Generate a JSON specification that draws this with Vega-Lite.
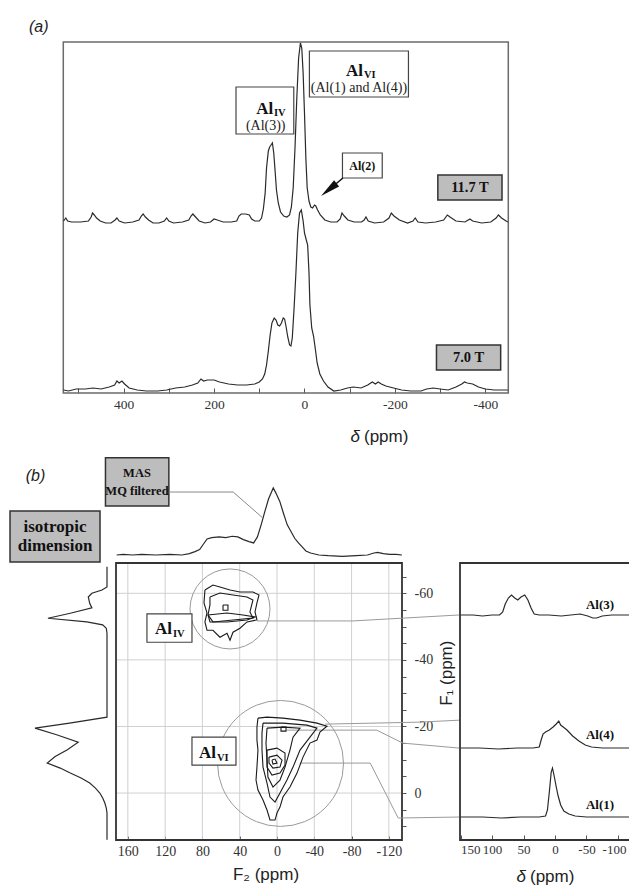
{
  "$schema": "https://vega.github.io/schema/vega-lite/v6.json",
  "width": 629,
  "height": 888,
  "autosize": "none",
  "padding": 0,
  "background": "white",
  "config": {"view": {"stroke": null}, "axis": {"grid": false, "labelOverlap": false}},
  "datasets": {
    "specHi": [
      {"ppm":533,"i":172},{"ppm":528,"i":175},{"ppm":524,"i":172},{"ppm":515,"i":171},{"ppm":495,"i":171},{"ppm":478,"i":172},{"ppm":472,"i":176},{"ppm":469,"i":180},{"ppm":465,"i":178},{"ppm":460,"i":175},{"ppm":452,"i":172},{"ppm":440,"i":170},{"ppm":428,"i":170},{"ppm":419,"i":173},{"ppm":415,"i":175},{"ppm":410,"i":172},{"ppm":398,"i":170},{"ppm":380,"i":171},{"ppm":366,"i":173},{"ppm":361,"i":177},{"ppm":357,"i":179},{"ppm":352,"i":176},{"ppm":345,"i":173},{"ppm":335,"i":170},{"ppm":322,"i":170},{"ppm":310,"i":172},{"ppm":305,"i":175},{"ppm":300,"i":172},{"ppm":290,"i":170},{"ppm":270,"i":171},{"ppm":256,"i":173},{"ppm":251,"i":177},{"ppm":247,"i":179},{"ppm":241,"i":176},{"ppm":233,"i":172},{"ppm":220,"i":170},{"ppm":208,"i":171},{"ppm":200,"i":174},{"ppm":193,"i":173},{"ppm":180,"i":171},{"ppm":162,"i":171},{"ppm":150,"i":172},{"ppm":145,"i":177},{"ppm":140,"i":179},{"ppm":130,"i":179},{"ppm":122,"i":178},{"ppm":117,"i":174},{"ppm":110,"i":172},{"ppm":100,"i":172},{"ppm":95,"i":175},{"ppm":91,"i":184},{"ppm":87,"i":200},{"ppm":84,"i":225},{"ppm":80,"i":242},{"ppm":77,"i":246},{"ppm":74,"i":248},{"ppm":71,"i":250},{"ppm":68,"i":240},{"ppm":65,"i":222},{"ppm":62,"i":203},{"ppm":58,"i":190},{"ppm":53,"i":181},{"ppm":46,"i":177},{"ppm":39,"i":176},{"ppm":33,"i":178},{"ppm":29,"i":186},{"ppm":25,"i":205},{"ppm":21,"i":245},{"ppm":17,"i":295},{"ppm":13,"i":335},{"ppm":9,"i":350},{"ppm":6,"i":345},{"ppm":3,"i":320},{"ppm":0,"i":280},{"ppm":-3,"i":235},{"ppm":-6,"i":205},{"ppm":-10,"i":192},{"ppm":-14,"i":186},{"ppm":-18,"i":185},{"ppm":-22,"i":188},{"ppm":-25,"i":187},{"ppm":-29,"i":183},{"ppm":-35,"i":178},{"ppm":-45,"i":173},{"ppm":-58,"i":171},{"ppm":-72,"i":171},{"ppm":-79,"i":174},{"ppm":-83,"i":180},{"ppm":-88,"i":177},{"ppm":-96,"i":173},{"ppm":-110,"i":171},{"ppm":-126,"i":171},{"ppm":-132,"i":173},{"ppm":-136,"i":176},{"ppm":-141,"i":172},{"ppm":-155,"i":170},{"ppm":-175,"i":171},{"ppm":-187,"i":175},{"ppm":-192,"i":180},{"ppm":-198,"i":177},{"ppm":-210,"i":173},{"ppm":-228,"i":170},{"ppm":-240,"i":172},{"ppm":-245,"i":175},{"ppm":-251,"i":171},{"ppm":-268,"i":170},{"ppm":-290,"i":171},{"ppm":-308,"i":173},{"ppm":-316,"i":178},{"ppm":-322,"i":176},{"ppm":-335,"i":172},{"ppm":-355,"i":171},{"ppm":-366,"i":174},{"ppm":-372,"i":172},{"ppm":-392,"i":170},{"ppm":-412,"i":171},{"ppm":-424,"i":175},{"ppm":-429,"i":178},{"ppm":-436,"i":175},{"ppm":-446,"i":172},{"ppm":-450,"i":171}
    ],
    "specLo": [
      {"ppm":533,"i":3},{"ppm":522,"i":2},{"ppm":505,"i":4},{"ppm":485,"i":4},{"ppm":468,"i":5},{"ppm":450,"i":4},{"ppm":432,"i":6},{"ppm":420,"i":8},{"ppm":415,"i":12},{"ppm":410,"i":10},{"ppm":404,"i":12},{"ppm":398,"i":9},{"ppm":388,"i":5},{"ppm":370,"i":3},{"ppm":350,"i":2},{"ppm":325,"i":2},{"ppm":305,"i":3},{"ppm":285,"i":5},{"ppm":265,"i":6},{"ppm":248,"i":8},{"ppm":236,"i":10},{"ppm":229,"i":14},{"ppm":223,"i":12},{"ppm":215,"i":13},{"ppm":200,"i":13},{"ppm":188,"i":11},{"ppm":168,"i":9},{"ppm":148,"i":8},{"ppm":128,"i":8},{"ppm":110,"i":9},{"ppm":100,"i":11},{"ppm":93,"i":14},{"ppm":88,"i":19},{"ppm":84,"i":28},{"ppm":80,"i":42},{"ppm":76,"i":58},{"ppm":72,"i":70},{"ppm":67,"i":75},{"ppm":63,"i":73},{"ppm":59,"i":68},{"ppm":55,"i":67},{"ppm":51,"i":70},{"ppm":47,"i":75},{"ppm":44,"i":74},{"ppm":41,"i":67},{"ppm":37,"i":56},{"ppm":33,"i":48},{"ppm":30,"i":47},{"ppm":27,"i":55},{"ppm":23,"i":85},{"ppm":19,"i":120},{"ppm":15,"i":160},{"ppm":11,"i":180},{"ppm":7,"i":183},{"ppm":3,"i":172},{"ppm":0,"i":160},{"ppm":-4,"i":153},{"ppm":-7,"i":148},{"ppm":-10,"i":120},{"ppm":-12,"i":88},{"ppm":-16,"i":65},{"ppm":-20,"i":57},{"ppm":-24,"i":44},{"ppm":-28,"i":30},{"ppm":-34,"i":19},{"ppm":-42,"i":12},{"ppm":-52,"i":6},{"ppm":-65,"i":2},{"ppm":-80,"i":3},{"ppm":-95,"i":5},{"ppm":-108,"i":6},{"ppm":-125,"i":5},{"ppm":-140,"i":8},{"ppm":-150,"i":11},{"ppm":-157,"i":9},{"ppm":-163,"i":11},{"ppm":-170,"i":9},{"ppm":-180,"i":7},{"ppm":-197,"i":5},{"ppm":-215,"i":3},{"ppm":-235,"i":2},{"ppm":-258,"i":2},{"ppm":-270,"i":4},{"ppm":-285,"i":5},{"ppm":-300,"i":4},{"ppm":-318,"i":3},{"ppm":-335,"i":6},{"ppm":-348,"i":9},{"ppm":-354,"i":11},{"ppm":-360,"i":10},{"ppm":-372,"i":9},{"ppm":-385,"i":6},{"ppm":-400,"i":4},{"ppm":-420,"i":3},{"ppm":-440,"i":3},{"ppm":-450,"i":3}
    ],
    "topProj": [
      {"f2":172,"i":0},{"f2":165,"i":1},{"f2":155,"i":0},{"f2":145,"i":1},{"f2":130,"i":0},{"f2":115,"i":1},{"f2":102,"i":0},{"f2":94,"i":2},{"f2":88,"i":5},{"f2":83,"i":8},{"f2":79,"i":16},{"f2":75,"i":24},{"f2":70,"i":26},{"f2":62,"i":27},{"f2":55,"i":26},{"f2":48,"i":28},{"f2":42,"i":27},{"f2":36,"i":23},{"f2":30,"i":20},{"f2":25,"i":18},{"f2":21,"i":27},{"f2":17,"i":45},{"f2":13,"i":65},{"f2":9,"i":84},{"f2":4,"i":100},{"f2":1,"i":92},{"f2":-3,"i":80},{"f2":-7,"i":62},{"f2":-11,"i":45},{"f2":-15,"i":35},{"f2":-19,"i":25},{"f2":-23,"i":18},{"f2":-27,"i":12},{"f2":-31,"i":6},{"f2":-36,"i":3},{"f2":-45,"i":0},{"f2":-55,"i":-1},{"f2":-70,"i":-2},{"f2":-85,"i":-1},{"f2":-97,"i":0},{"f2":-104,"i":3},{"f2":-108,"i":4},{"f2":-114,"i":2},{"f2":-121,"i":1},{"f2":-128,"i":1},{"f2":-134,"i":0}
    ],
    "leftProj": [
      {"f1":-68,"i":0},{"f1":-61.9,"i":0},{"f1":-61,"i":7},{"f1":-60,"i":21},{"f1":-58.9,"i":26},{"f1":-57,"i":24},{"f1":-55.6,"i":21},{"f1":-54,"i":51},{"f1":-52.5,"i":82},{"f1":-51.4,"i":28},{"f1":-50.5,"i":6},{"f1":-49.5,"i":1},{"f1":-48,"i":0},{"f1":-22.8,"i":0},{"f1":-21,"i":52},{"f1":-19.5,"i":100},{"f1":-17.5,"i":70},{"f1":-15.3,"i":40},{"f1":-13,"i":55},{"f1":-11,"i":72},{"f1":-9,"i":83},{"f1":-7.5,"i":65},{"f1":-6,"i":51},{"f1":-4.5,"i":36},{"f1":-3,"i":24},{"f1":-1.5,"i":16},{"f1":0,"i":10},{"f1":1.5,"i":6},{"f1":3,"i":3},{"f1":4.5,"i":1},{"f1":6,"i":0},{"f1":14,"i":0}
    ],
    "slices": [
      {"s":"Al3","d":150,"i":225},{"s":"Al3","d":130,"i":225},{"s":"Al3","d":115,"i":224},{"s":"Al3","d":100,"i":225},{"s":"Al3","d":88,"i":225},{"s":"Al3","d":83,"i":228},{"s":"Al3","d":79,"i":236},{"s":"Al3","d":74,"i":242},{"s":"Al3","d":69,"i":245},{"s":"Al3","d":64,"i":242},{"s":"Al3","d":59,"i":240},{"s":"Al3","d":54,"i":243},{"s":"Al3","d":48,"i":245},{"s":"Al3","d":43,"i":240},{"s":"Al3","d":38,"i":232},{"s":"Al3","d":33,"i":226},{"s":"Al3","d":25,"i":225},{"s":"Al3","d":10,"i":225},{"s":"Al3","d":-10,"i":224},{"s":"Al3","d":-25,"i":225},{"s":"Al3","d":-40,"i":226},{"s":"Al3","d":-52,"i":224},{"s":"Al3","d":-60,"i":222},{"s":"Al3","d":-66,"i":222},{"s":"Al3","d":-75,"i":224},{"s":"Al3","d":-90,"i":225},{"s":"Al3","d":-110,"i":225},{"s":"Al3","d":-150,"i":225},
      {"s":"Al4","d":150,"i":92},{"s":"Al4","d":120,"i":92},{"s":"Al4","d":90,"i":91},{"s":"Al4","d":60,"i":92},{"s":"Al4","d":35,"i":92},{"s":"Al4","d":25,"i":93},{"s":"Al4","d":22,"i":100},{"s":"Al4","d":19,"i":106},{"s":"Al4","d":15,"i":108},{"s":"Al4","d":9,"i":110},{"s":"Al4","d":3,"i":113},{"s":"Al4","d":-2,"i":116},{"s":"Al4","d":-6,"i":119},{"s":"Al4","d":-9,"i":115},{"s":"Al4","d":-13,"i":113},{"s":"Al4","d":-19,"i":110},{"s":"Al4","d":-28,"i":104},{"s":"Al4","d":-38,"i":99},{"s":"Al4","d":-48,"i":95},{"s":"Al4","d":-58,"i":93},{"s":"Al4","d":-75,"i":92},{"s":"Al4","d":-100,"i":92},{"s":"Al4","d":-150,"i":92},
      {"s":"Al1","d":150,"i":23},{"s":"Al1","d":115,"i":23},{"s":"Al1","d":85,"i":22},{"s":"Al1","d":55,"i":23},{"s":"Al1","d":25,"i":23},{"s":"Al1","d":15,"i":24},{"s":"Al1","d":12,"i":30},{"s":"Al1","d":9,"i":48},{"s":"Al1","d":6,"i":68},{"s":"Al1","d":4,"i":72},{"s":"Al1","d":1,"i":63},{"s":"Al1","d":-2,"i":53},{"s":"Al1","d":-5,"i":44},{"s":"Al1","d":-9,"i":35},{"s":"Al1","d":-14,"i":29},{"s":"Al1","d":-22,"i":26},{"s":"Al1","d":-32,"i":24},{"s":"Al1","d":-50,"i":23},{"s":"Al1","d":-80,"i":23},{"s":"Al1","d":-150,"i":23}
    ],
    "contours": [
      {"c":"iv1","o":0,"f2":77.3,"f1":-61.0},{"c":"iv1","o":1,"f2":68.7,"f1":-62.5},{"c":"iv1","o":2,"f2":61.2,"f1":-61.9},{"c":"iv1","o":3,"f2":50.4,"f1":-61.0},{"c":"iv1","o":4,"f2":39.7,"f1":-60.4},{"c":"iv1","o":5,"f2":25.8,"f1":-60.4},{"c":"iv1","o":6,"f2":19.3,"f1":-59.5},{"c":"iv1","o":7,"f2":21.5,"f1":-57.1},{"c":"iv1","o":8,"f2":23.6,"f1":-54.4},{"c":"iv1","o":9,"f2":21.5,"f1":-52.0},{"c":"iv1","o":10,"f2":32.2,"f1":-51.4},{"c":"iv1","o":11,"f2":39.7,"f1":-49.5},{"c":"iv1","o":12,"f2":47.2,"f1":-48.3},{"c":"iv1","o":13,"f2":50.4,"f1":-45.9},{"c":"iv1","o":14,"f2":53.6,"f1":-48.0},{"c":"iv1","o":15,"f2":61.2,"f1":-46.8},{"c":"iv1","o":16,"f2":68.7,"f1":-48.9},{"c":"iv1","o":17,"f2":75.1,"f1":-48.9},{"c":"iv1","o":18,"f2":77.3,"f1":-51.4},{"c":"iv1","o":19,"f2":75.1,"f1":-54.1},{"c":"iv1","o":20,"f2":78.3,"f1":-57.1},{"c":"iv1","o":21,"f2":77.3,"f1":-61.0},
      {"c":"iv2","o":0,"f2":71.9,"f1":-58.9},{"c":"iv2","o":1,"f2":61.2,"f1":-60.1},{"c":"iv2","o":2,"f2":47.2,"f1":-59.5},{"c":"iv2","o":3,"f2":32.2,"f1":-58.9},{"c":"iv2","o":4,"f2":25.8,"f1":-58.0},{"c":"iv2","o":5,"f2":29.0,"f1":-54.4},{"c":"iv2","o":6,"f2":25.8,"f1":-52.6},{"c":"iv2","o":7,"f2":47.2,"f1":-52.0},{"c":"iv2","o":8,"f2":68.7,"f1":-51.4},{"c":"iv2","o":9,"f2":74.0,"f1":-53.5},{"c":"iv2","o":10,"f2":71.9,"f1":-56.5},{"c":"iv2","o":11,"f2":71.9,"f1":-58.9},
      {"c":"iv3","o":0,"f2":74.0,"f1":-53.5},{"c":"iv3","o":1,"f2":53.6,"f1":-54.1},{"c":"iv3","o":2,"f2":36.5,"f1":-53.5},{"c":"iv3","o":3,"f2":23.6,"f1":-52.9},{"c":"iv3","o":4,"f2":32.2,"f1":-52.0},{"c":"iv3","o":5,"f2":53.6,"f1":-51.4},{"c":"iv3","o":6,"f2":71.9,"f1":-51.4},{"c":"iv3","o":7,"f2":74.0,"f1":-53.5},
      {"c":"ivr","o":0,"f2":57.9,"f1":-56.5},{"c":"ivr","o":1,"f2":52.6,"f1":-56.5},{"c":"ivr","o":2,"f2":52.6,"f1":-54.9},{"c":"ivr","o":3,"f2":57.9,"f1":-54.9},{"c":"ivr","o":4,"f2":57.9,"f1":-56.5},
      {"c":"vi1","o":0,"f2":20.4,"f1":-22.5},{"c":"vi1","o":1,"f2":10.7,"f1":-22.8},{"c":"vi1","o":2,"f2":-6.4,"f1":-22.5},{"c":"vi1","o":3,"f2":-24.7,"f1":-21.9},{"c":"vi1","o":4,"f2":-42.9,"f1":-21.0},{"c":"vi1","o":5,"f2":-53.6,"f1":-20.1},{"c":"vi1","o":6,"f2":-46.1,"f1":-18.3},{"c":"vi1","o":7,"f2":-42.9,"f1":-15.9},{"c":"vi1","o":8,"f2":-35.4,"f1":-15.0},{"c":"vi1","o":9,"f2":-27.9,"f1":-10.8},{"c":"vi1","o":10,"f2":-21.5,"f1":-6.0},{"c":"vi1","o":11,"f2":-13.9,"f1":-1.8},{"c":"vi1","o":12,"f2":-6.4,"f1":1.2},{"c":"vi1","o":13,"f2":-3.2,"f1":4.2},{"c":"vi1","o":14,"f2":0,"f1":6.0},{"c":"vi1","o":15,"f2":2.1,"f1":8.1},{"c":"vi1","o":16,"f2":7.5,"f1":8.1},{"c":"vi1","o":17,"f2":10.7,"f1":5.1},{"c":"vi1","o":18,"f2":15.0,"f1":2.1},{"c":"vi1","o":19,"f2":20.4,"f1":-0.9},{"c":"vi1","o":20,"f2":22.5,"f1":-3.9},{"c":"vi1","o":21,"f2":21.5,"f1":-7.8},{"c":"vi1","o":22,"f2":20.4,"f1":-12.9},{"c":"vi1","o":23,"f2":21.5,"f1":-15.9},{"c":"vi1","o":24,"f2":21.5,"f1":-19.8},{"c":"vi1","o":25,"f2":20.4,"f1":-22.5},
      {"c":"vi2","o":0,"f2":15.0,"f1":-21.0},{"c":"vi2","o":1,"f2":-6.4,"f1":-21.0},{"c":"vi2","o":2,"f2":-32.2,"f1":-20.4},{"c":"vi2","o":3,"f2":-42.9,"f1":-19.5},{"c":"vi2","o":4,"f2":-35.4,"f1":-16.8},{"c":"vi2","o":5,"f2":-24.7,"f1":-12.9},{"c":"vi2","o":6,"f2":-17.2,"f1":-7.8},{"c":"vi2","o":7,"f2":-10.7,"f1":-3.9},{"c":"vi2","o":8,"f2":-3.2,"f1":0},{"c":"vi2","o":9,"f2":2.1,"f1":2.7},{"c":"vi2","o":10,"f2":7.5,"f1":1.2},{"c":"vi2","o":11,"f2":10.7,"f1":-3.0},{"c":"vi2","o":12,"f2":15.0,"f1":-7.8},{"c":"vi2","o":13,"f2":16.1,"f1":-12.9},{"c":"vi2","o":14,"f2":16.1,"f1":-18.0},{"c":"vi2","o":15,"f2":15.0,"f1":-21.0},
      {"c":"vi3","o":0,"f2":10.7,"f1":-19.5},{"c":"vi3","o":1,"f2":-6.4,"f1":-19.8},{"c":"vi3","o":2,"f2":-24.7,"f1":-19.5},{"c":"vi3","o":3,"f2":-17.2,"f1":-16.8},{"c":"vi3","o":4,"f2":-13.9,"f1":-12.9},{"c":"vi3","o":5,"f2":-8.6,"f1":-7.8},{"c":"vi3","o":6,"f2":-3.2,"f1":-3.9},{"c":"vi3","o":7,"f2":4.3,"f1":-1.8},{"c":"vi3","o":8,"f2":9.7,"f1":-4.8},{"c":"vi3","o":9,"f2":10.7,"f1":-9.9},{"c":"vi3","o":10,"f2":11.8,"f1":-15.0},{"c":"vi3","o":11,"f2":10.7,"f1":-19.5},
      {"c":"vi4","o":0,"f2":10.7,"f1":-12.9},{"c":"vi4","o":1,"f2":0,"f1":-13.5},{"c":"vi4","o":2,"f2":-8.6,"f1":-12.0},{"c":"vi4","o":3,"f2":-8.6,"f1":-8.4},{"c":"vi4","o":4,"f2":-3.2,"f1":-6.0},{"c":"vi4","o":5,"f2":5.4,"f1":-5.4},{"c":"vi4","o":6,"f2":10.7,"f1":-7.8},{"c":"vi4","o":7,"f2":10.7,"f1":-12.9},
      {"c":"vi5","o":0,"f2":8.6,"f1":-10.8},{"c":"vi5","o":1,"f2":0,"f1":-11.4},{"c":"vi5","o":2,"f2":-5.4,"f1":-9.9},{"c":"vi5","o":3,"f2":-3.2,"f1":-7.8},{"c":"vi5","o":4,"f2":4.3,"f1":-7.5},{"c":"vi5","o":5,"f2":8.6,"f1":-9.0},{"c":"vi5","o":6,"f2":8.6,"f1":-10.8},
      {"c":"vi6","o":0,"f2":5.4,"f1":-9.9},{"c":"vi6","o":1,"f2":2.1,"f1":-10.2},{"c":"vi6","o":2,"f2":0,"f1":-9.0},{"c":"vi6","o":3,"f2":4.3,"f1":-8.7},{"c":"vi6","o":4,"f2":5.4,"f1":-9.9},
      {"c":"vir","o":0,"f2":-4.3,"f1":-19.8},{"c":"vir","o":1,"f2":-9.7,"f1":-19.8},{"c":"vir","o":2,"f2":-9.7,"f1":-18.6},{"c":"vir","o":3,"f2":-4.3,"f1":-18.6},{"c":"vir","o":4,"f2":-4.3,"f1":-19.8}
    ],
    "connectors": [
      {"c":"a3","o":0,"f2":21.5,"f1":-51.7},{"c":"a3","o":1,"f2":-81.5,"f1":-51.7},{"c":"a3","o":2,"f2":-196,"f1":-53.5},
      {"c":"a4a","o":0,"f2":-51.5,"f1":-20.7},{"c":"a4a","o":1,"f2":-153,"f1":-21.3},{"c":"a4a","o":2,"f2":-196,"f1":-21.9},
      {"c":"a4b","o":0,"f2":-10.7,"f1":-18.9},{"c":"a4b","o":1,"f2":-107,"f1":-18.9},{"c":"a4b","o":2,"f2":-135,"f1":-15},{"c":"a4b","o":3,"f2":-196,"f1":-13.5},
      {"c":"a1","o":0,"f2":-24.7,"f1":-9},{"c":"a1","o":1,"f2":-100,"f1":-9},{"c":"a1","o":2,"f2":-130,"f1":7.5},{"c":"a1","o":3,"f2":-196,"f1":7.2}
    ]
  },
  "resolve": {"scale": {"x": "independent", "y": "independent"}, "axis": {"x": "independent", "y": "independent"}},
  "layer": [
    {
      "resolve": {"axis": {"x": "independent", "y": "independent"}},
      "layer": [
        {
          "data": {"values": [{}]},
          "mark": {"type": "rect", "fill": "transparent", "stroke": "#6b6b6b", "strokeWidth": 1.5},
          "encoding": {
            "x": {"datum": 533.6, "type": "quantitative", "scale": {"domain": [533.6, -450.9], "range": [63.3, 508.3], "nice": false, "zero": false},
                  "axis": {"orient": "bottom", "offset": -495, "values": [500,400,300,200,100,0,-100,-200,-300,-400], "labelExpr": "datum.value % 200 == 0 ? '' + datum.value : ''", "tickSize": -5, "tickColor": "#555", "domain": false, "title": null, "labelFont": "Liberation Serif", "labelFontSize": 13.5, "labelColor": "#333", "labelPadding": 9}},
            "x2": {"datum": -450.9},
            "y": {"datum": 0, "type": "quantitative", "scale": {"domain": [0, 351], "range": [393, 42], "nice": false, "zero": false}, "axis": null},
            "y2": {"datum": 351}
          }
        },
        {
          "data": {"name": "specHi"},
          "mark": {"type": "line", "color": "#2a2a2a", "strokeWidth": 1.2},
          "encoding": {"x": {"field": "ppm", "type": "quantitative", "axis": null}, "y": {"field": "i", "type": "quantitative", "axis": null}}
        },
        {
          "data": {"name": "specLo"},
          "mark": {"type": "line", "color": "#2a2a2a", "strokeWidth": 1.2},
          "encoding": {"x": {"field": "ppm", "type": "quantitative", "axis": null}, "y": {"field": "i", "type": "quantitative", "axis": null}}
        },
        {
          "data": {"values": [{"x1":151.5,"x2":23.7,"y1":306,"y2":259},{"x1":-10.9,"x2":-230,"y1":342,"y2":296},{"x1":-84,"x2":-172,"y1":240,"y2":215}]},
          "mark": {"type": "rect", "fill": "white", "stroke": "#444", "strokeWidth": 1.2},
          "encoding": {"x": {"field": "x1", "type": "quantitative", "axis": null}, "x2": {"field": "x2"}, "y": {"field": "y1", "type": "quantitative", "axis": null}, "y2": {"field": "y2"}}
        },
        {
          "data": {"values": [{"x1":-295,"x2":-437,"y1":218,"y2":193},{"x1":-292,"x2":-434,"y1":48,"y2":23}]},
          "mark": {"type": "rect", "fill": "#bdbdbd", "stroke": "#333", "strokeWidth": 1.5},
          "encoding": {"x": {"field": "x1", "type": "quantitative", "axis": null}, "x2": {"field": "x2"}, "y": {"field": "y1", "type": "quantitative", "axis": null}, "y2": {"field": "y2"}}
        },
        {
          "data": {"values": [{"x":69.3,"y":279,"t":"Al"},{"x":-129.6,"y":317,"t":"Al"}]},
          "mark": {"type": "text", "align": "right", "baseline": "alphabetic", "font": "Liberation Serif", "fontWeight": "bold", "fontSize": 17, "color": "#111"},
          "encoding": {"x": {"field": "x", "type": "quantitative", "axis": null}, "y": {"field": "y", "type": "quantitative", "axis": null}, "text": {"field": "t"}}
        },
        {
          "data": {"values": [{"x":67.5,"y":277,"t":"IV"},{"x":-131.4,"y":315,"t":"VI"}]},
          "mark": {"type": "text", "align": "left", "baseline": "alphabetic", "font": "Liberation Serif", "fontWeight": "bold", "fontSize": 10.5, "color": "#111"},
          "encoding": {"x": {"field": "x", "type": "quantitative", "axis": null}, "y": {"field": "y", "type": "quantitative", "axis": null}, "text": {"field": "t"}}
        },
        {
          "data": {"values": [{"x":85.8,"y":267,"t":"(Al(3))"},{"x":-120.5,"y":305,"t":"(Al(1) and Al(4))"}]},
          "mark": {"type": "text", "align": "center", "baseline": "middle", "font": "Liberation Serif", "fontSize": 14, "color": "#222"},
          "encoding": {"x": {"field": "x", "type": "quantitative", "axis": null}, "y": {"field": "y", "type": "quantitative", "axis": null}, "text": {"field": "t"}}
        },
        {
          "data": {"values": [{"x":-128,"y":227,"t":"Al(2)"}]},
          "mark": {"type": "text", "align": "center", "baseline": "middle", "font": "Liberation Serif", "fontWeight": "bold", "fontSize": 12, "color": "#111"},
          "encoding": {"x": {"field": "x", "type": "quantitative", "axis": null}, "y": {"field": "y", "type": "quantitative", "axis": null}, "text": {"field": "t"}}
        },
        {
          "data": {"values": [{"x":-366,"y":205,"t":"11.7 T"},{"x":-363,"y":35,"t":"7.0 T"}]},
          "mark": {"type": "text", "align": "center", "baseline": "middle", "font": "Liberation Serif", "fontWeight": "bold", "fontSize": 14.5, "color": "#111"},
          "encoding": {"x": {"field": "x", "type": "quantitative", "axis": null}, "y": {"field": "y", "type": "quantitative", "axis": null}, "text": {"field": "t"}}
        },
        {
          "data": {"values": [{"x":588,"y":366,"t":"(a)"}]},
          "mark": {"type": "text", "align": "center", "baseline": "middle", "font": "Liberation Sans", "fontStyle": "italic", "fontSize": 16, "color": "#222"},
          "encoding": {"x": {"field": "x", "type": "quantitative", "axis": null}, "y": {"field": "y", "type": "quantitative", "axis": null}, "text": {"field": "t"}}
        },
        {
          "data": {"values": [{"x":-122.8,"y":-44,"t":"δ"}]},
          "mark": {"type": "text", "align": "right", "baseline": "middle", "font": "Liberation Sans", "fontStyle": "italic", "fontSize": 17, "color": "#222"},
          "encoding": {"x": {"field": "x", "type": "quantitative", "axis": null}, "y": {"field": "y", "type": "quantitative", "axis": null}, "text": {"field": "t"}}
        },
        {
          "data": {"values": [{"x":-131.6,"y":-44,"t":"(ppm)"}]},
          "mark": {"type": "text", "align": "left", "baseline": "middle", "font": "Liberation Sans", "fontSize": 17, "color": "#222"},
          "encoding": {"x": {"field": "x", "type": "quantitative", "axis": null}, "y": {"field": "y", "type": "quantitative", "axis": null}, "text": {"field": "t"}}
        },
        {
          "data": {"values": [{"o":0,"x":-85,"y":215},{"o":1,"x":-58.6,"y":205}]},
          "mark": {"type": "line", "color": "#111", "strokeWidth": 1.5},
          "encoding": {"x": {"field": "x", "type": "quantitative", "axis": null}, "y": {"field": "y", "type": "quantitative", "axis": null}, "order": {"field": "o"}}
        },
        {
          "data": {"values": [{"x":-53.8,"y":203.3}]},
          "mark": {"type": "point", "shape": "M0,-1L0.4,1L-0.4,1Z", "filled": true, "color": "#111", "opacity": 1, "size": 400, "angle": 231},
          "encoding": {"x": {"field": "x", "type": "quantitative", "axis": null}, "y": {"field": "y", "type": "quantitative", "axis": null}}
        }
      ]
    },
    {
      "layer": [
        {
          "data": {"name": "topProj"},
          "mark": {"type": "line", "color": "#2a2a2a", "strokeWidth": 1.2},
          "encoding": {
            "x": {"field": "f2", "type": "quantitative", "scale": {"domain": [172.7, -134.1], "range": [116, 402], "nice": false, "zero": false}, "axis": null},
            "y": {"field": "i", "type": "quantitative", "scale": {"domain": [0, 100], "range": [555, 488], "nice": false, "zero": false}, "axis": null}
          }
        },
        {
          "data": {"values": [{"x1":184,"x2":116,"y1":145,"y2":73}]},
          "mark": {"type": "rect", "fill": "#bdbdbd", "stroke": "#333", "strokeWidth": 1.5},
          "encoding": {"x": {"field": "x1", "type": "quantitative", "axis": null}, "x2": {"field": "x2"}, "y": {"field": "y1", "type": "quantitative", "axis": null}, "y2": {"field": "y2"}}
        },
        {
          "data": {"values": [{"x":150.2,"y":122,"t":"MAS"},{"x":150.2,"y":96,"t":"MQ filtered"}]},
          "mark": {"type": "text", "align": "center", "baseline": "middle", "font": "Liberation Serif", "fontWeight": "bold", "fontSize": 12.5, "color": "#111"},
          "encoding": {"x": {"field": "x", "type": "quantitative", "axis": null}, "y": {"field": "y", "type": "quantitative", "axis": null}, "text": {"field": "t"}}
        },
        {
          "data": {"values": [{"o":0,"x":116,"y":94},{"o":1,"x":47,"y":94},{"o":2,"x":15,"y":55}]},
          "mark": {"type": "line", "color": "#8a8a8a", "strokeWidth": 1},
          "encoding": {"x": {"field": "x", "type": "quantitative", "axis": null}, "y": {"field": "y", "type": "quantitative", "axis": null}, "order": {"field": "o"}}
        },
        {
          "data": {"values": [{"x":259,"y":118,"t":"(b)"}]},
          "mark": {"type": "text", "align": "center", "baseline": "middle", "font": "Liberation Sans", "fontStyle": "italic", "fontSize": 16, "color": "#222"},
          "encoding": {"x": {"field": "x", "type": "quantitative", "axis": null}, "y": {"field": "y", "type": "quantitative", "axis": null}, "text": {"field": "t"}}
        }
      ]
    },
    {
      "layer": [
        {
          "data": {"name": "leftProj"},
          "mark": {"type": "line", "color": "#2a2a2a", "strokeWidth": 1.2},
          "encoding": {
            "x": {"field": "i", "type": "quantitative", "scale": {"domain": [0, 100], "range": [107, 35], "nice": false, "zero": false}, "axis": null},
            "y": {"field": "f1", "type": "quantitative", "scale": {"domain": [-69.1, 14.1], "range": [563, 840], "nice": false, "zero": false}, "axis": null},
            "order": {"field": "f1"}
          }
        },
        {
          "data": {"values": [{"x1":134.7,"x2":9.7,"y1":-84.7,"y2":-69.4}]},
          "mark": {"type": "rect", "fill": "#bdbdbd", "stroke": "#333", "strokeWidth": 1.5},
          "encoding": {"x": {"field": "x1", "type": "quantitative", "axis": null}, "x2": {"field": "x2"}, "y": {"field": "y1", "type": "quantitative", "axis": null}, "y2": {"field": "y2"}}
        },
        {
          "data": {"values": [{"x":72.2,"y":-80.0,"t":"isotropic"},{"x":72.2,"y":-74.1,"t":"dimension"}]},
          "mark": {"type": "text", "align": "center", "baseline": "middle", "font": "Liberation Serif", "fontWeight": "bold", "fontSize": 17, "color": "#111"},
          "encoding": {"x": {"field": "x", "type": "quantitative", "axis": null}, "y": {"field": "y", "type": "quantitative", "axis": null}, "text": {"field": "t"}}
        }
      ]
    },
    {
      "resolve": {"axis": {"x": "independent", "y": "independent"}},
      "layer": [
        {
          "data": {"values": [{"v":160},{"v":120},{"v":80},{"v":40},{"v":0},{"v":-40},{"v":-80},{"v":-120}]},
          "mark": {"type": "rule", "color": "#d0d0d0", "strokeWidth": 1},
          "encoding": {"x": {"field": "v", "type": "quantitative", "axis": null}, "y": {"datum": -69.1, "type": "quantitative", "axis": null}, "y2": {"datum": 14.1}}
        },
        {
          "data": {"values": [{"v":-60},{"v":-40},{"v":-20},{"v":0}]},
          "mark": {"type": "rule", "color": "#d0d0d0", "strokeWidth": 1},
          "encoding": {"y": {"field": "v", "type": "quantitative", "axis": null}, "x": {"datum": 172.7, "type": "quantitative", "axis": null}, "x2": {"datum": -134.1}}
        },
        {
          "data": {"values": [{}]},
          "mark": {"type": "rect", "fill": "transparent", "stroke": "#333", "strokeWidth": 1.8},
          "encoding": {
            "x": {"datum": 172.7, "type": "quantitative", "scale": {"domain": [172.7, -134.1], "range": [116, 402], "nice": false, "zero": false},
                  "axis": {"orient": "bottom", "offset": -48, "values": [160,120,80,40,0,-40,-80,-120], "labelExpr": "'' + datum.value", "tickSize": -4, "tickColor": "#555", "domain": false, "title": null, "labelFont": "Liberation Serif", "labelFontSize": 14, "labelColor": "#333", "labelPadding": 8}},
            "x2": {"datum": -134.1},
            "y": {"datum": -69.1, "type": "quantitative", "scale": {"domain": [-69.1, 14.1], "range": [563, 840], "nice": false, "zero": false},
                  "axis": {"orient": "right", "offset": -227, "values": [-65,-60,-55,-50,-45,-40,-35,-30,-25,-20,-15,-10,-5,0,5,10], "labelExpr": "datum.value % 20 == 0 ? '' + datum.value : ''", "tickSize": 4, "tickColor": "#555", "domain": false, "title": null, "labelFont": "Liberation Serif", "labelFontSize": 14, "labelColor": "#333", "labelPadding": 8}},
            "y2": {"datum": 14.1}
          }
        },
        {
          "data": {"values": [{"x":50.4,"y":-55.3}]},
          "mark": {"type": "point", "shape": "circle", "filled": false, "color": "#9a9a9a", "strokeWidth": 1, "size": 6400, "opacity": 1},
          "encoding": {"x": {"field": "x", "type": "quantitative", "axis": null}, "y": {"field": "y", "type": "quantitative", "axis": null}}
        },
        {
          "data": {"values": [{"x":-3.8,"y":-8.9}]},
          "mark": {"type": "point", "shape": "circle", "filled": false, "color": "#9a9a9a", "strokeWidth": 1, "size": 15876, "opacity": 1},
          "encoding": {"x": {"field": "x", "type": "quantitative", "axis": null}, "y": {"field": "y", "type": "quantitative", "axis": null}}
        },
        {
          "data": {"name": "connectors"},
          "mark": {"type": "line", "color": "#9a9a9a", "strokeWidth": 1},
          "encoding": {"x": {"field": "f2", "type": "quantitative", "axis": null}, "y": {"field": "f1", "type": "quantitative", "axis": null}, "detail": {"field": "c"}, "order": {"field": "o"}}
        },
        {
          "data": {"name": "contours"},
          "mark": {"type": "line", "color": "#1a1a1a", "strokeWidth": 1.1},
          "encoding": {"x": {"field": "f2", "type": "quantitative", "axis": null}, "y": {"field": "f1", "type": "quantitative", "axis": null}, "detail": {"field": "c"}, "order": {"field": "o"}}
        },
        {
          "data": {"values": [{"x1":139.5,"x2":91.2,"y1":-53.8,"y2":-45.3},{"x1":91.2,"x2":44,"y1":-16.8,"y2":-8.4}]},
          "mark": {"type": "rect", "fill": "white", "stroke": "#444", "strokeWidth": 1.2},
          "encoding": {"x": {"field": "x1", "type": "quantitative", "axis": null}, "x2": {"field": "x2"}, "y": {"field": "y1", "type": "quantitative", "axis": null}, "y2": {"field": "y2"}}
        },
        {
          "data": {"values": [{"x":112.7,"y":-47.7,"t":"Al"},{"x":65.5,"y":-10.5,"t":"Al"}]},
          "mark": {"type": "text", "align": "right", "baseline": "alphabetic", "font": "Liberation Serif", "fontWeight": "bold", "fontSize": 17, "color": "#111"},
          "encoding": {"x": {"field": "x", "type": "quantitative", "axis": null}, "y": {"field": "y", "type": "quantitative", "axis": null}, "text": {"field": "t"}}
        },
        {
          "data": {"values": [{"x":111.6,"y":-46.8,"t":"IV"},{"x":64.4,"y":-9.6,"t":"VI"}]},
          "mark": {"type": "text", "align": "left", "baseline": "alphabetic", "font": "Liberation Serif", "fontWeight": "bold", "fontSize": 10.5, "color": "#111"},
          "encoding": {"x": {"field": "x", "type": "quantitative", "axis": null}, "y": {"field": "y", "type": "quantitative", "axis": null}, "text": {"field": "t"}}
        },
        {
          "data": {"values": [{"x":11.8,"y":24.6,"t":"F₂ (ppm)"}]},
          "mark": {"type": "text", "align": "center", "baseline": "middle", "font": "Liberation Sans", "fontSize": 17, "color": "#222"},
          "encoding": {"x": {"field": "x", "type": "quantitative", "axis": null}, "y": {"field": "y", "type": "quantitative", "axis": null}, "text": {"field": "t"}}
        },
        {
          "data": {"values": [{"x":-182.4,"y":-36,"t":"F₁ (ppm)"}]},
          "mark": {"type": "text", "align": "center", "baseline": "middle", "angle": 270, "font": "Liberation Sans", "fontSize": 17, "color": "#222"},
          "encoding": {"x": {"field": "x", "type": "quantitative", "axis": null}, "y": {"field": "y", "type": "quantitative", "axis": null}, "text": {"field": "t"}}
        }
      ]
    },
    {
      "resolve": {"axis": {"x": "independent", "y": "independent"}},
      "layer": [
        {
          "data": {"values": [{}]},
          "mark": {"type": "rect", "fill": "transparent", "stroke": "#333", "strokeWidth": 1.8},
          "encoding": {
            "x": {"datum": 150.8, "type": "quantitative", "scale": {"domain": [150.8, -150.8], "range": [460, 650], "nice": false, "zero": false},
                  "axis": {"orient": "bottom", "offset": -48, "values": [150,100,50,0,-50,-100], "labelExpr": "'' + datum.value", "labelOverlap": false, "labelBound": false, "labelOffset": {"condition": {"test": "datum.value == -100", "value": -4}, "value": 0}, "tickSize": -5, "tickColor": "#555", "domain": false, "title": null, "labelFont": "Liberation Serif", "labelFontSize": 13, "labelColor": "#333", "labelPadding": 8}},
            "x2": {"datum": -150.8},
            "y": {"datum": 0, "type": "quantitative", "scale": {"domain": [0, 277], "range": [840, 563], "nice": false, "zero": false}, "axis": null},
            "y2": {"datum": 277}
          }
        },
        {
          "data": {"name": "slices"},
          "mark": {"type": "line", "color": "#2a2a2a", "strokeWidth": 1.2},
          "encoding": {"x": {"field": "d", "type": "quantitative", "axis": null}, "y": {"field": "i", "type": "quantitative", "axis": null}, "detail": {"field": "s"}}
        },
        {
          "data": {"values": [{"x":-71.4,"y":235,"t":"Al(3)"},{"x":-71.4,"y":105,"t":"Al(4)"},{"x":-71.4,"y":35,"t":"Al(1)"}]},
          "mark": {"type": "text", "align": "center", "baseline": "middle", "font": "Liberation Serif", "fontWeight": "bold", "fontSize": 13, "color": "#111"},
          "encoding": {"x": {"field": "x", "type": "quantitative", "axis": null}, "y": {"field": "y", "type": "quantitative", "axis": null}, "text": {"field": "t"}}
        },
        {
          "data": {"values": [{"x":46,"y":-37,"t":"δ"}]},
          "mark": {"type": "text", "align": "right", "baseline": "middle", "font": "Liberation Sans", "fontStyle": "italic", "fontSize": 17, "color": "#222"},
          "encoding": {"x": {"field": "x", "type": "quantitative", "axis": null}, "y": {"field": "y", "type": "quantitative", "axis": null}, "text": {"field": "t"}}
        },
        {
          "data": {"values": [{"x":39.7,"y":-37,"t":"(ppm)"}]},
          "mark": {"type": "text", "align": "left", "baseline": "middle", "font": "Liberation Sans", "fontSize": 17, "color": "#222"},
          "encoding": {"x": {"field": "x", "type": "quantitative", "axis": null}, "y": {"field": "y", "type": "quantitative", "axis": null}, "text": {"field": "t"}}
        }
      ]
    }
  ]
}
